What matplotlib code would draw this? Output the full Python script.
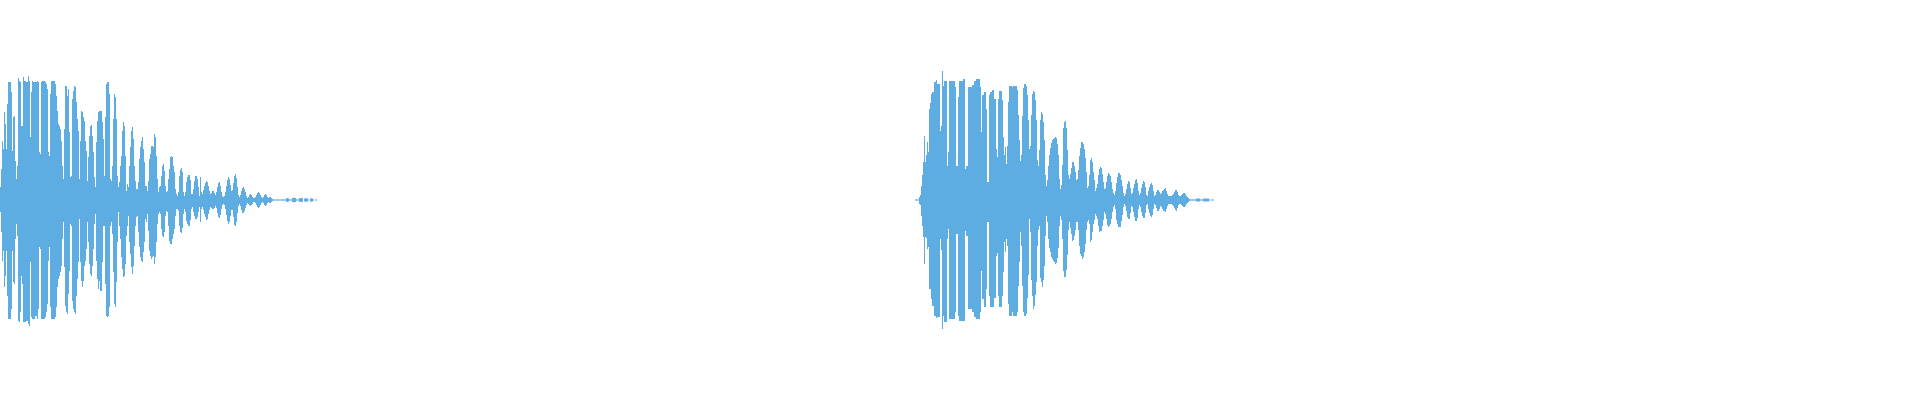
import numpy as np
import matplotlib
matplotlib.use("Agg")
import matplotlib.pyplot as plt

# ---- data: waveform envelope per sample column (amplitude, full scale = 200) ----
burst1_start = 0
burst1_upper = [
    13, 31, 59, 51, 88, 76, 51, 96, 118, 118,
    118, 108, 49, 83, 84, 39, 21, 34, 122, 119,
    118, 74, 74, 123, 119, 119, 118, 118, 124, 119,
    63, 108, 119, 118, 118, 118, 118, 119, 118, 48,
    46, 118, 119, 119, 119, 118, 116, 111, 48, 44,
    106, 119, 119, 119, 119, 116, 104, 89, 76, 74,
    71, 59, 34, 21, 71, 114, 114, 104, 111, 68,
    23, 24, 101, 109, 114, 113, 98, 81, 69, 21,
    59, 89, 88, 83, 79, 59, 49, 19, 43, 64,
    74, 75, 64, 48, 23, 13, 58, 79, 88, 89,
    89, 89, 78, 61, 24, 83, 116, 118, 118, 106,
    21, 19, 34, 81, 106, 103, 81, 24, 13, 18,
    34, 44, 69, 78, 74, 44, 9, 16, 13, 34,
    53, 69, 73, 61, 34, 19, 11, 11, 18, 41,
    53, 59, 63, 51, 38, 14, 14, 9, 19, 41,
    46, 54, 54, 53, 66, 63, 44, 21, 8, 13,
    14, 24, 34, 36, 29, 14, 8, 9, 21, 31,
    43, 44, 43, 34, 28, 11, 6, 4, 8, 24,
    30, 32, 28, 8, 4, 8, 18, 23, 25, 25,
    20, 6, 6, 11, 19, 24, 24, 21, 13, 4,
    23, 8, 6, 10, 14, 17, 19, 18, 14, 9,
    6, 7, 9, 9, 7, 5, 8, 13, 17, 18,
    14, 8, 4, 3, 4, 8, 14, 20, 23, 21,
    15, 9, 10, 17, 24, 26, 22, 13, 5, 3,
    5, 9, 12, 13, 11, 8, 4, 2, 3, 5,
    6, 5, 3, 2, 2, 3, 5, 7, 8, 7,
    5, 3, 2, 3, 5, 6, 5, 3, 2, 3,
    3, 2, 1,
]
burst1_lower = [
    12, 32, 61, 51, 87, 76, 51, 96, 119, 119,
    119, 109, 51, 82, 84, 39, 24, 36, 121, 122,
    112, 76, 84, 122, 122, 122, 121, 121, 124, 126,
    62, 117, 119, 119, 119, 116, 116, 119, 109, 47,
    49, 119, 119, 119, 119, 117, 112, 104, 61, 47,
    107, 119, 119, 119, 119, 117, 107, 87, 79, 76,
    72, 66, 39, 22, 67, 106, 112, 114, 94, 71,
    24, 26, 101, 109, 112, 114, 96, 79, 62, 19,
    62, 81, 87, 81, 66, 61, 49, 22, 42, 64,
    74, 76, 66, 49, 24, 14, 61, 79, 89, 81,
    91, 91, 62, 26, 26, 84, 116, 117, 116, 107,
    26, 22, 34, 72, 104, 107, 82, 42, 12, 26,
    39, 57, 69, 77, 76, 64, 36, 26, 16, 42,
    54, 67, 74, 66, 46, 26, 17, 16, 32, 47,
    57, 61, 62, 52, 42, 19, 22, 14, 31, 51,
    56, 59, 57, 56, 64, 57, 42, 24, 14, 12,
    14, 29, 36, 37, 32, 16, 11, 12, 26, 41,
    44, 44, 39, 34, 29, 16, 9, 9, 11, 26,
    32, 33, 28, 14, 9, 12, 21, 24, 26, 26,
    20, 9, 7, 12, 16, 19, 19, 17, 12, 7,
    22, 9, 7, 10, 14, 17, 20, 19, 14, 10,
    7, 8, 9, 9, 8, 6, 8, 13, 17, 18,
    15, 9, 5, 4, 5, 9, 15, 21, 24, 22,
    16, 10, 10, 17, 25, 26, 22, 13, 6, 4,
    6, 10, 13, 13, 11, 8, 5, 3, 4, 5,
    6, 5, 4, 2, 2, 3, 5, 7, 8, 7,
    5, 3, 2, 3, 5, 6, 5, 3, 2, 3,
    3, 2, 1,
]
burst1_tail = [
    0.6, 0.6, 0.6, 0.6, 0.6, 0.6, 0.6, 0.6, 0.6, 0.6, 0.6, 0.6, 0.6,
    1.7, 2, 1.7, 0.6, 0.6, 0.6, 2, 2.3, 2.3, 2, 0.6, 0.6, 0.6,
    1.7, 2, 2, 1.7, 0, 1.5, 1.7, 1.7, 1.5, 0.6, 0,
    1.5, 1.7, 1.5, 0.6, 0, 0.6, 0.6,
]

burst2_start = 915
burst2_upper = [
    0.6, 0.6, 0.6, 0.6, 3, 5, 14, 25, 38, 64,
    38, 45, 58, 48, 91, 97, 106, 108, 108, 118,
    118, 120, 116, 116, 116, 69, 74, 129, 114, 119,
    119, 119, 34, 48, 119, 119, 119, 119, 119, 119,
    113, 34, 34, 103, 119, 119, 119, 119, 121, 121,
    31, 34, 34, 113, 113, 113, 113, 115, 115, 119,
    119, 121, 121, 121, 121, 113, 68, 105, 105, 108,
    108, 91, 18, 18, 105, 108, 108, 110, 110, 101,
    101, 51, 43, 101, 109, 109, 109, 100, 63, 45,
    53, 36, 54, 98, 114, 114, 114, 113, 114, 114,
    114, 114, 110, 85, 60, 39, 45, 84, 112, 116,
    116, 114, 105, 80, 51, 54, 85, 106, 109, 108,
    100, 80, 40, 34, 50, 80, 88, 86, 78, 60,
    25, 14, 20, 34, 45, 52, 57, 60, 61, 62,
    63, 62, 56, 45, 21, 11, 15, 35, 72, 78,
    79, 72, 50, 25, 21, 26, 32, 38, 38, 34,
    28, 20, 21, 30, 44, 52, 58, 58, 56, 51,
    42, 28, 12, 14, 25, 40, 42, 38, 28, 20,
    9, 12, 16, 25, 31, 33, 32, 26, 18, 11,
    12, 18, 24, 27, 26, 24, 18, 11, 7, 5,
    9, 17, 23, 27, 27, 25, 20, 14, 7, 4,
    6, 11, 16, 19, 18, 12, 6, 7, 12, 16,
    20, 21, 17, 9, 5, 7, 12, 16, 19, 18,
    13, 5, 4, 9, 13, 16, 17, 15, 9, 4,
    5, 8, 10, 10, 8, 6, 7, 9, 10, 11,
    12, 9, 6, 4, 4, 4, 4, 5, 6, 8,
    10, 10, 8, 5, 4, 4, 5, 6, 7, 7,
    6, 4, 3, 2, 1, 0.6, 0.6, 0.6, 0.6, 0.6,
    0.6, 1.5, 1.5, 1.5, 1.5, 0.6, 0.6, 0.6, 1.5, 1.5,
    1.5, 1.5, 1.5, 1.5, 0.6, 0, 0.6, 0.6, 0.6,
]
burst2_lower = [
    0.6, 0.6, 0.6, 0.6, 4, 5, 16, 26, 37, 64,
    37, 38, 49, 47, 89, 89, 99, 106, 106, 116,
    116, 118, 117, 117, 117, 39, 50, 129, 116, 122,
    122, 122, 39, 29, 119, 119, 119, 119, 119, 119,
    112, 34, 34, 116, 121, 121, 121, 121, 121, 121,
    31, 36, 36, 109, 109, 109, 109, 112, 112, 117,
    117, 119, 119, 119, 119, 112, 71, 99, 99, 107,
    107, 89, 22, 22, 96, 107, 107, 107, 107, 98,
    98, 56, 53, 96, 107, 107, 107, 96, 72, 42,
    52, 39, 46, 104, 116, 116, 116, 112, 116, 116,
    116, 116, 112, 86, 62, 32, 46, 86, 112, 116,
    116, 114, 98, 75, 19, 32, 80, 96, 109, 106,
    95, 82, 46, 30, 26, 78, 82, 87, 80, 66,
    36, 16, 22, 39, 48, 52, 57, 59, 61, 62,
    64, 63, 58, 48, 26, 16, 20, 39, 71, 77,
    77, 70, 55, 30, 22, 28, 34, 41, 40, 36,
    30, 22, 22, 30, 46, 54, 56, 59, 57, 52,
    44, 30, 22, 20, 24, 42, 40, 32, 24, 20,
    14, 16, 19, 26, 32, 31, 31, 26, 20, 12,
    14, 19, 25, 27, 26, 24, 19, 12, 7, 5,
    9, 20, 24, 27, 27, 27, 21, 15, 7, 4,
    6, 11, 17, 19, 19, 13, 6, 7, 12, 17,
    21, 21, 18, 9, 5, 7, 12, 16, 18, 18,
    13, 5, 4, 9, 13, 16, 17, 15, 9, 4,
    5, 8, 11, 11, 9, 6, 7, 9, 11, 11,
    12, 9, 6, 4, 4, 4, 4, 5, 6, 8,
    10, 11, 8, 5, 4, 4, 5, 6, 7, 7,
    6, 4, 3, 2, 1, 0.6, 0.6, 0.6, 0.6, 0.6,
    0.6, 1.5, 1.5, 1.5, 1.5, 0.6, 0.6, 0.6, 1.5, 1.5,
    1.5, 1.5, 1.5, 1.5, 0.6, 0, 0.6, 0.6, 0.6,
]

WAVE_COLOR = "#5DADE2"

fig = plt.figure(figsize=(19.2, 4.0), dpi=100)
ax = fig.add_axes([0, 0, 1, 1])
ax.set_xlim(0, 1920)
ax.set_ylim(-200, 200)
ax.axis("off")


def draw_burst(start, upper, lower):
    n = min(len(upper), len(lower))
    up = np.asarray(upper[:n], dtype=float)
    lo = np.asarray(lower[:n], dtype=float)
    edges = start + np.arange(n + 1)
    ax.stairs(up, edges, baseline=-lo, fill=True, color=WAVE_COLOR,
              linewidth=0)


draw_burst(burst1_start, burst1_upper + burst1_tail, burst1_lower + burst1_tail)
draw_burst(burst2_start, burst2_upper, burst2_lower)

fig.savefig("out.png", dpi=100, facecolor="white")
